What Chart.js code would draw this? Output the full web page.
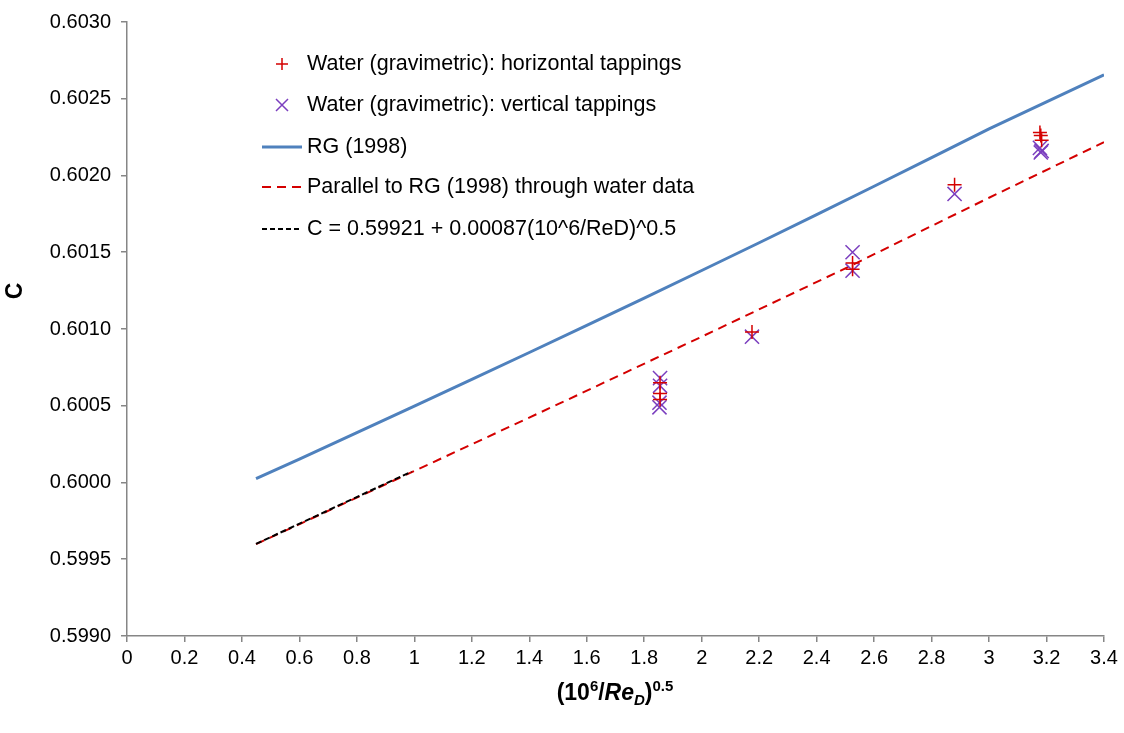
<!DOCTYPE html>
<html>
<head>
<meta charset="utf-8">
<script src="https://cdn.jsdelivr.net/npm/chart.js@4/dist/chart.umd.min.js"></script>
<style>
  body { margin: 0; background: #fff; }
  #wrap { width: 1124px; height: 733px; }
</style>
</head>
<body>
<div id="wrap"><canvas id="myChart" width="1124" height="733"></canvas></div>
<script>
// values
const horizX = [1.855, 1.855, 1.855, 2.175, 2.525, 2.525, 2.88, 3.177, 3.18, 3.183];
const horizC = [0.60065, 0.60058, 0.60054, 0.60098, 0.60143, 0.60139, 0.60194, 0.60228, 0.60226, 0.60223];

const vertX = [1.855, 1.855, 1.853, 1.853, 2.175, 2.525, 2.525, 2.88, 3.177, 3.183, 3.18];
const vertC = [0.60068, 0.60063, 0.60052, 0.60049, 0.60095, 0.60150, 0.60138, 0.60188, 0.60218, 0.60216, 0.60215];

const rgX = [0.449, 0.6, 0.8, 1.0, 1.2, 1.4, 1.6, 1.8, 2.0, 2.2, 2.4, 2.6, 2.8, 3.0, 3.2, 3.4];
const rgC = [0.600025, 0.600153, 0.600325, 0.600498, 0.600672, 0.600847, 0.601023, 0.601201,
             0.601381, 0.601562, 0.601745, 0.601930, 0.602117, 0.602304, 0.602480, 0.602656];

const parX = [0.449, 1.0, 1.5, 2.0, 2.5, 3.0, 3.4];
const parC = [0.599598, 0.600075, 0.600510, 0.600950, 0.601395, 0.601855, 0.602217];

const fitX = [0.449, 0.99];
const fitC = [0.599600, 0.600071];

const legendLabels = [
  'Water (gravimetric): horizontal tappings',
  'Water (gravimetric): vertical tappings',
  'RG (1998)',
  'Parallel to RG (1998) through water data',
  'C = 0.59921 + 0.00087(10^6/ReD)^0.5'
];

const RED = '#d40000';
const PURPLE = '#7b3fbf';
const BLUE = '#4f81bd';
const AXIS = '#868686';
const FONT = '"Liberation Sans", Arial, sans-serif';

function pts(xs, ys) {
  return xs.map((x, i) => ({ x: x, y: ys[i] }));
}

// legend, axis titles
const extras = {
  id: 'extras',
  afterDraw(chart) {
    const ctx = chart.ctx;
    ctx.save();
    ctx.fillStyle = '#000';
    ctx.textBaseline = 'middle';
    ctx.font = '21.5px ' + FONT;
    const rows = [64, 105, 147, 187, 229];
    const tx = 307;
    legendLabels.forEach((t, i) => ctx.fillText(t, tx, rows[i]));

    // + marker
    ctx.strokeStyle = RED; ctx.lineWidth = 1.5;
    ctx.beginPath();
    ctx.moveTo(276, rows[0]); ctx.lineTo(288, rows[0]);
    ctx.moveTo(282, rows[0] - 6); ctx.lineTo(282, rows[0] + 6);
    ctx.stroke();
    // x marker
    ctx.strokeStyle = PURPLE;
    ctx.beginPath();
    ctx.moveTo(276, rows[1] - 6); ctx.lineTo(288, rows[1] + 6);
    ctx.moveTo(288, rows[1] - 6); ctx.lineTo(276, rows[1] + 6);
    ctx.stroke();
    // lines
    ctx.lineWidth = 3; ctx.strokeStyle = BLUE;
    ctx.beginPath(); ctx.moveTo(262, rows[2]); ctx.lineTo(302, rows[2]); ctx.stroke();
    ctx.lineWidth = 2; ctx.strokeStyle = RED; ctx.setLineDash([9, 6]);
    ctx.beginPath(); ctx.moveTo(262, rows[3]); ctx.lineTo(302, rows[3]); ctx.stroke();
    ctx.strokeStyle = '#000'; ctx.setLineDash([5, 3]);
    ctx.beginPath(); ctx.moveTo(262, rows[4]); ctx.lineTo(302, rows[4]); ctx.stroke();
    ctx.setLineDash([]);

    // y title
    ctx.save();
    ctx.translate(16, 291);
    ctx.rotate(-Math.PI / 2);
    ctx.textAlign = 'center';
    ctx.font = 'bold 23px ' + FONT;
    ctx.fillText('C', 0, 0);
    ctx.restore();

    // x title with super/subscripts
    const parts = [
      { t: '(10', f: 'bold 23px ', dy: 0 },
      { t: '6', f: 'bold 15px ', dy: -9 },
      { t: '/', f: 'bold 23px ', dy: 0 },
      { t: 'Re', f: 'italic bold 23px ', dy: 0 },
      { t: 'D', f: 'italic bold 15px ', dy: 5 },
      { t: ')', f: 'bold 23px ', dy: 0 },
      { t: '0.5', f: 'bold 15px ', dy: -9 }
    ];
    ctx.textAlign = 'left';
    ctx.textBaseline = 'alphabetic';
    let w = 0;
    parts.forEach(p => { ctx.font = p.f + FONT; w += ctx.measureText(p.t).width; });
    let x = 615 - w / 2;
    const base = 700;
    parts.forEach(p => {
      ctx.font = p.f + FONT;
      ctx.fillText(p.t, x, base + p.dy);
      x += ctx.measureText(p.t).width;
    });
    ctx.restore();
  }
};

const data = {
  datasets: [
    {
      label: legendLabels[0],
      data: pts(horizX, horizC),
      pointStyle: 'cross',
      pointRadius: 7,
      pointBorderWidth: 1.5,
      borderColor: RED,
      backgroundColor: RED,
      showLine: false,
      order: 0
    },
    {
      label: legendLabels[1],
      data: pts(vertX, vertC),
      pointStyle: 'crossRot',
      pointRadius: 10,
      pointBorderWidth: 1.5,
      borderColor: PURPLE,
      backgroundColor: PURPLE,
      showLine: false,
      order: 0
    },
    {
      label: legendLabels[2],
      data: pts(rgX, rgC),
      showLine: true,
      pointRadius: 0,
      borderColor: BLUE,
      borderWidth: 3,
      order: 3
    },
    {
      label: legendLabels[3],
      data: pts(parX, parC),
      showLine: true,
      pointRadius: 0,
      borderColor: RED,
      borderWidth: 2,
      borderDash: [9, 6],
      order: 2
    },
    {
      label: legendLabels[4],
      data: pts(fitX, fitC),
      showLine: true,
      pointRadius: 0,
      borderColor: '#000',
      borderWidth: 2,
      borderDash: [6, 3],
      order: 1
    }
  ]
};

const config = {
  type: 'scatter',
  data: data,
  plugins: [extras],
  options: {
    responsive: false,
    animation: false,
    layout: { padding: { left: 0, top: 18, right: 20, bottom: 0 } },
    plugins: {
      legend: { display: false },
      tooltip: { enabled: false }
    },
    scales: {
      x: {
        type: 'linear',
        min: 0,
        max: 3.4,
        afterFit: s => { s.height = 97; },
        afterBuildTicks: s => {
          s.ticks = [];
          for (let i = 0; i <= 17; i++) s.ticks.push({ value: +(i * 0.2).toFixed(1) });
        },
        ticks: {
          color: '#000',
          font: { family: FONT, size: 20 },
          padding: 4,
          maxRotation: 0,
          autoSkip: false,
          callback: v => String(+(+v).toFixed(1))
        },
        grid: { drawOnChartArea: false, drawTicks: true, tickLength: 6, color: AXIS, lineWidth: 1.5 },
        border: { color: AXIS, width: 1.5 }
      },
      y: {
        type: 'linear',
        min: 0.599,
        max: 0.603,
        afterFit: s => { s.width = 127; },
        afterBuildTicks: s => {
          s.ticks = [];
          for (let i = 0; i <= 8; i++) s.ticks.push({ value: +(0.599 + i * 0.0005).toFixed(4) });
        },
        ticks: {
          color: '#000',
          font: { family: FONT, size: 20 },
          padding: 10,
          callback: v => (+v).toFixed(4)
        },
        grid: { drawOnChartArea: false, drawTicks: true, tickLength: 6, color: AXIS, lineWidth: 1.5 },
        border: { color: AXIS, width: 1.5 }
      }
    }
  }
};

const chart = new Chart(document.getElementById('myChart'), config);
</script>
</body>
</html>
